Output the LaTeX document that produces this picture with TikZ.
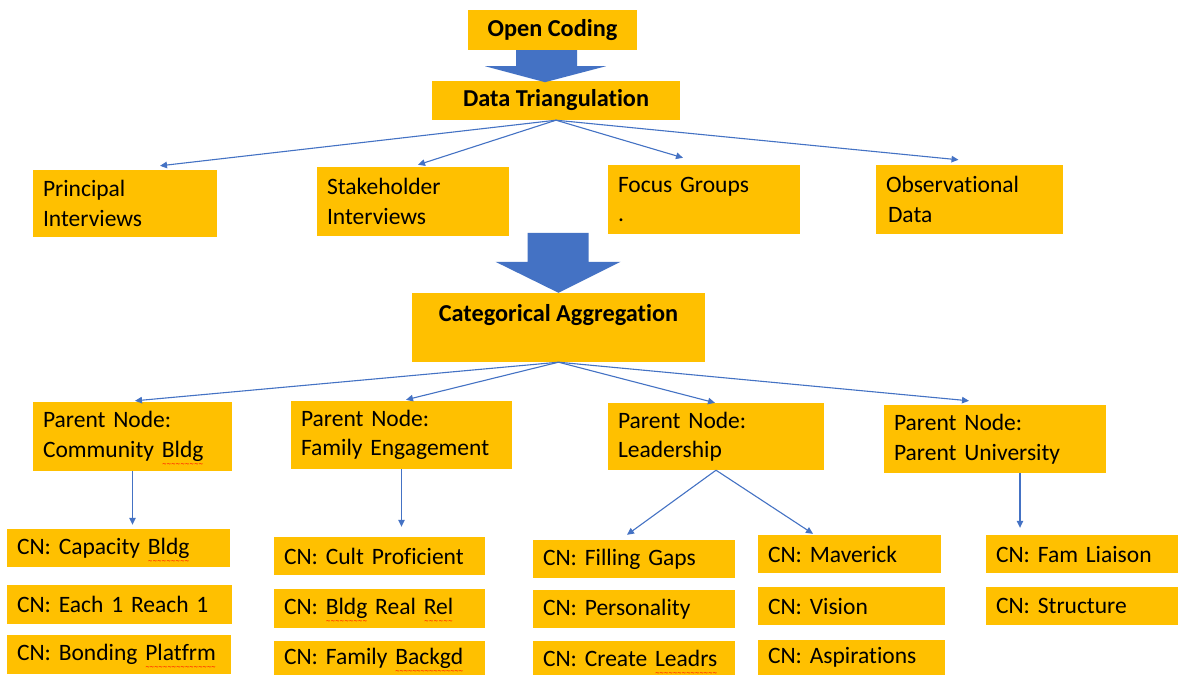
\documentclass[tikz,border=0pt]{standalone}
\usepackage{fontspec}
\setmainfont{Carlito}[Ligatures=NoCommon]
\newfontfamily\wavefont{DejaVu Sans Mono}
\usetikzlibrary{arrows.meta,calc}
\definecolor{gold}{HTML}{FFC000}
\definecolor{oblue}{HTML}{4472C4}
\newcommand\sq[1]{\leavevmode\setbox0\hbox{#1}%
  \rlap{\raisebox{-9pt}[0pt][0pt]{\color{red}\hbox to \wd0{\wavefont\fontsize{7}{7}\selectfont\xleaders\hbox{\char"7E}\hfill}}}\box0}
\tikzset{
  box/.style={fill=gold, inner xsep=10pt, inner ysep=0pt, align=left,
    font=\fontsize{23.5}{29.5}\selectfont},
  tbox/.style={fill=gold, inner sep=0pt, align=center,
    font=\fontsize{24.3}{29.5}\selectfont\bfseries},
  conn/.style={draw=oblue, line width=1.1pt, -{Triangle[length=7pt,width=6.5pt]}},
  barrow/.style={fill=oblue}
}
\newcommand\bx[6]{%
  \pgfmathsetmacro\bw{#4-#2}\pgfmathsetmacro\bh{#5-#3}\pgfmathsetmacro\tw{#4-#2-20}%
  \node[box, minimum width=\bw pt, minimum height=\bh pt, text width=\tw pt] (#1) at ({(#2+#4)/2},{(#3+#5)/2}) {#6};}
\newcommand\tb[6]{%
  \pgfmathsetmacro\bw{#4-#2}\pgfmathsetmacro\bh{#5-#3}%
  \node[tbox, minimum width=\bw pt, minimum height=\bh pt] (#1) at ({(#2+#4)/2},{(#3+#5)/2}) {#6};}
\begin{document}
\begin{tikzpicture}[x=1pt,y=-1pt]
\fill[white] (0,0) rectangle (1178,675);
\useasboundingbox (0,0) rectangle (1178,675);

% top
\tb{oc}{468}{10}{637}{50}{Open Coding}
\tb{dt}{432}{81}{680}{120}{Data Triangulation}
\fill[barrow] ([xshift=-36.5pt]oc.south) -- ++(61,0) -- ++(0,16) -- ++(29,0) -- ++(-61,16) -- ++(-60,-16) -- ++(31,0) -- cycle;

% sources
\bx{pi}{33}{170}{217}{237}{Principal\\Interviews}
\bx{si}{317}{167}{509}{236}{Stakeholder\\Interviews}
\bx{fg}{608}{165}{800}{234}{Focus~Groups\\.}
\bx{od}{876}{165}{1063}{234}{Observational\\\hspace*{2pt}Data}

\draw[conn] (dt.south) -- ([xshift=35pt,yshift=4pt]pi.north);
\draw[conn] (dt.south) -- ([xshift=5pt,yshift=2pt]si.north);
\draw[conn] (dt.south) -- ([xshift=-21pt,yshift=7pt]fg.north);
\draw[conn] (dt.south) -- ([xshift=-11pt,yshift=5pt]od.north);

% categorical aggregation
\tb{ca}{412}{293}{705}{362}{Categorical~Aggregation\\\mbox{}}
\fill[barrow] (ca.north) -- ++(62,-31) -- ++(-32,0) -- ++(0,-29) -- ++(-61,0) -- ++(0,29) -- ++(-32,0) -- cycle;

% parent nodes
\bx{pn1}{33}{402}{232}{471}{Parent~Node:\\Community~\sq{Bldg}}
\bx{pn2}{291}{401}{512}{469}{Parent~Node:\\Family~Engagement}
\bx{pn3}{608}{403}{824}{470}{Parent~Node:\\Leadership}
\bx{pn4}{884}{405}{1106}{473}{Parent~Node:\\Parent~University}

\draw[conn] (ca.south) -- ([xshift=2.5pt,yshift=1pt]pn1.north);
\draw[conn] (ca.south) -- ([xshift=4.5pt,yshift=1pt]pn2.north);
\draw[conn] (ca.south) -- ([xshift=-1pt,yshift=0pt]pn3.north);
\draw[conn] (ca.south) -- ([xshift=-26pt,yshift=4pt]pn4.north);

% child nodes
\bx{cap}{7}{529}{230}{567}{CN:~Capacity~\sq{Bldg}}
\bx{each}{7}{585}{232}{624}{CN:~Each~1~Reach~1}
\bx{bond}{7}{635}{231}{674}{CN:~Bonding~\sq{Platfrm}}
\bx{cult}{274}{537}{485}{575}{CN:~Cult~Proficient}
\bx{real}{274}{589}{485}{628}{CN:~\sq{Bldg}~Real~\sq{Rel}}
\bx{fam}{274}{641}{485}{675}{CN:~Family~\sq{Backgd}}
\bx{fgp}{533}{540}{735}{578}{CN:~Filling~Gaps}
\bx{pers}{533}{590}{735}{628}{CN:~Personality}
\bx{lead}{533}{641}{735}{675}{CN:~Create~\sq{Leadrs}}
\bx{mav}{758}{535}{941}{573}{CN:~Maverick}
\bx{vis}{758}{587}{945}{625}{CN:~Vision}
\bx{asp}{758}{640}{945}{675}{CN:~Aspirations}
\bx{fl}{986}{535}{1178}{573}{CN:~Fam~Liaison}
\bx{str}{986}{587}{1178}{625}{CN:~Structure}

\draw[conn] (pn1.south) -- ([yshift=4pt]pn1.south |- cap.north);
\draw[conn] (pn2.south) -- ([yshift=10pt]pn2.south |- cult.north);
\draw[conn] (pn3.south) -- ([xshift=-7pt,yshift=5pt]fgp.north);
\draw[conn] (pn3.south) -- ([xshift=-36.5pt,yshift=1pt]mav.north);
\draw[conn] ([xshift=25pt]pn4.south) -- ([xshift=25pt,yshift=7pt]pn4.south |- fl.north);
\end{tikzpicture}
\end{document}
